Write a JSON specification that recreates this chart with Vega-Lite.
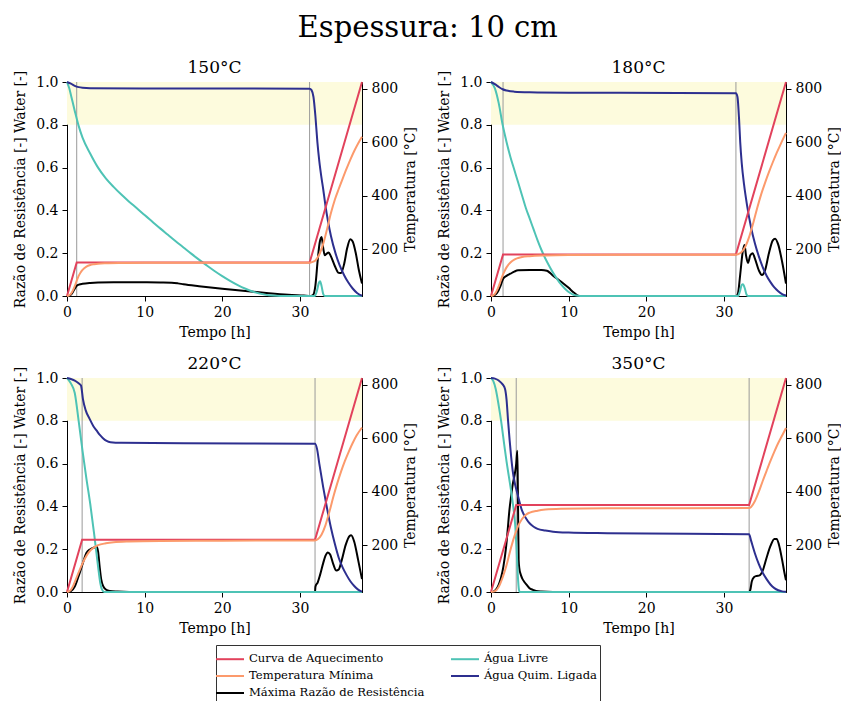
{
  "$schema": "https://vega.github.io/schema/vega-lite/v6.json",
  "background": "white",
  "padding": {"left": 13, "top": 13, "right": 2, "bottom": 2},
  "title": {"text": "Espessura: 10 cm", "fontSize": 29, "fontWeight": "normal", "anchor": "middle", "offset": 16, "color": "#000"},
  "datasets": {
    "band": [{"t0": 0, "t1": 38, "lo": 0.8, "hi": 1}],
    "vlines": [
      {"p": 150, "t": 1.25}, {"p": 150, "t": 31.25},
      {"p": 180, "t": 1.55}, {"p": 180, "t": 31.55},
      {"p": 220, "t": 1.95}, {"p": 220, "t": 31.95},
      {"p": 350, "t": 3.25}, {"p": 350, "t": 33.25}
    ],
    "ratio": [
      {"p":150,"s":"M","t":0,"v":0},{"p":150,"s":"M","t":0.3,"v":0.002},{"p":150,"s":"M","t":0.6,"v":0.01},{"p":150,"s":"M","t":0.9,"v":0.028},{"p":150,"s":"M","t":1.25,"v":0.048},{"p":150,"s":"M","t":1.6,"v":0.054},{"p":150,"s":"M","t":2,"v":0.057},{"p":150,"s":"M","t":3,"v":0.061},{"p":150,"s":"M","t":4,"v":0.063},{"p":150,"s":"M","t":6,"v":0.064},{"p":150,"s":"M","t":9,"v":0.064},{"p":150,"s":"M","t":12,"v":0.063},{"p":150,"s":"M","t":13.5,"v":0.062},{"p":150,"s":"M","t":14.3,"v":0.059},{"p":150,"s":"M","t":15,"v":0.055},{"p":150,"s":"M","t":17,"v":0.046},{"p":150,"s":"M","t":20,"v":0.034},{"p":150,"s":"M","t":23,"v":0.023},{"p":150,"s":"M","t":26,"v":0.013},{"p":150,"s":"M","t":28.5,"v":0.006},{"p":150,"s":"M","t":30.5,"v":0.002},{"p":150,"s":"M","t":31.4,"v":0},{"p":150,"s":"M","t":31.7,"v":0.005},{"p":150,"s":"M","t":32,"v":0.05},{"p":150,"s":"M","t":32.3,"v":0.17},{"p":150,"s":"M","t":32.55,"v":0.25},{"p":150,"s":"M","t":32.8,"v":0.276},{"p":150,"s":"M","t":33,"v":0.225},{"p":150,"s":"M","t":33.2,"v":0.19},{"p":150,"s":"M","t":33.45,"v":0.198},{"p":150,"s":"M","t":33.7,"v":0.203},{"p":150,"s":"M","t":34,"v":0.185},{"p":150,"s":"M","t":34.5,"v":0.14},{"p":150,"s":"M","t":35,"v":0.108},{"p":150,"s":"M","t":35.3,"v":0.107},{"p":150,"s":"M","t":35.7,"v":0.15},{"p":150,"s":"M","t":36.1,"v":0.225},{"p":150,"s":"M","t":36.5,"v":0.265},{"p":150,"s":"M","t":36.8,"v":0.255},{"p":150,"s":"M","t":37.2,"v":0.2},{"p":150,"s":"M","t":37.6,"v":0.12},{"p":150,"s":"M","t":38,"v":0.058},
      {"p":150,"s":"L","t":0,"v":1},{"p":150,"s":"L","t":0.3,"v":0.97},{"p":150,"s":"L","t":0.6,"v":0.925},{"p":150,"s":"L","t":1,"v":0.865},{"p":150,"s":"L","t":1.5,"v":0.795},{"p":150,"s":"L","t":2,"v":0.74},{"p":150,"s":"L","t":3,"v":0.665},{"p":150,"s":"L","t":4,"v":0.6},{"p":150,"s":"L","t":5,"v":0.55},{"p":150,"s":"L","t":6,"v":0.51},{"p":150,"s":"L","t":7,"v":0.474},{"p":150,"s":"L","t":8,"v":0.441},{"p":150,"s":"L","t":9,"v":0.41},{"p":150,"s":"L","t":10,"v":0.378},{"p":150,"s":"L","t":11,"v":0.347},{"p":150,"s":"L","t":12,"v":0.316},{"p":150,"s":"L","t":13,"v":0.286},{"p":150,"s":"L","t":14,"v":0.256},{"p":150,"s":"L","t":15,"v":0.227},{"p":150,"s":"L","t":16,"v":0.198},{"p":150,"s":"L","t":17,"v":0.17},{"p":150,"s":"L","t":18,"v":0.143},{"p":150,"s":"L","t":19,"v":0.117},{"p":150,"s":"L","t":20,"v":0.093},{"p":150,"s":"L","t":21,"v":0.071},{"p":150,"s":"L","t":22,"v":0.051},{"p":150,"s":"L","t":23,"v":0.034},{"p":150,"s":"L","t":24,"v":0.02},{"p":150,"s":"L","t":25,"v":0.01},{"p":150,"s":"L","t":26,"v":0.004},{"p":150,"s":"L","t":27,"v":0.001},{"p":150,"s":"L","t":28,"v":0},{"p":150,"s":"L","t":31.9,"v":0},{"p":150,"s":"L","t":32.2,"v":0.025},{"p":150,"s":"L","t":32.45,"v":0.062},{"p":150,"s":"L","t":32.6,"v":0.069},{"p":150,"s":"L","t":32.8,"v":0.045},{"p":150,"s":"L","t":33,"v":0.01},{"p":150,"s":"L","t":33.2,"v":0},{"p":150,"s":"L","t":38,"v":0},
      {"p":150,"s":"Q","t":0,"v":1},{"p":150,"s":"Q","t":0.5,"v":0.992},{"p":150,"s":"Q","t":1,"v":0.982},{"p":150,"s":"Q","t":1.5,"v":0.976},{"p":150,"s":"Q","t":2,"v":0.973},{"p":150,"s":"Q","t":3,"v":0.971},{"p":150,"s":"Q","t":10,"v":0.97},{"p":150,"s":"Q","t":31.25,"v":0.969},{"p":150,"s":"Q","t":31.5,"v":0.962},{"p":150,"s":"Q","t":31.75,"v":0.93},{"p":150,"s":"Q","t":32,"v":0.84},{"p":150,"s":"Q","t":32.25,"v":0.72},{"p":150,"s":"Q","t":32.5,"v":0.63},{"p":150,"s":"Q","t":32.75,"v":0.56},{"p":150,"s":"Q","t":33,"v":0.5},{"p":150,"s":"Q","t":33.3,"v":0.42},{"p":150,"s":"Q","t":33.6,"v":0.354},{"p":150,"s":"Q","t":34,"v":0.28},{"p":150,"s":"Q","t":34.6,"v":0.198},{"p":150,"s":"Q","t":35.1,"v":0.145},{"p":150,"s":"Q","t":35.7,"v":0.097},{"p":150,"s":"Q","t":36.2,"v":0.065},{"p":150,"s":"Q","t":36.8,"v":0.035},{"p":150,"s":"Q","t":37.4,"v":0.013},{"p":150,"s":"Q","t":38,"v":0.001},

      {"p":180,"s":"M","t":0,"v":0},{"p":180,"s":"M","t":0.4,"v":0.003},{"p":180,"s":"M","t":0.8,"v":0.015},{"p":180,"s":"M","t":1.2,"v":0.045},{"p":180,"s":"M","t":1.55,"v":0.08},{"p":180,"s":"M","t":2,"v":0.094},{"p":180,"s":"M","t":2.5,"v":0.104},{"p":180,"s":"M","t":3,"v":0.114},{"p":180,"s":"M","t":3.5,"v":0.12},{"p":180,"s":"M","t":5,"v":0.122},{"p":180,"s":"M","t":6.5,"v":0.122},{"p":180,"s":"M","t":7.2,"v":0.118},{"p":180,"s":"M","t":7.6,"v":0.108},{"p":180,"s":"M","t":8,"v":0.095},{"p":180,"s":"M","t":9,"v":0.068},{"p":180,"s":"M","t":10,"v":0.038},{"p":180,"s":"M","t":10.7,"v":0.015},{"p":180,"s":"M","t":11.2,"v":0.002},{"p":180,"s":"M","t":11.5,"v":0},{"p":180,"s":"M","t":31.6,"v":0},{"p":180,"s":"M","t":31.8,"v":0.01},{"p":180,"s":"M","t":32.1,"v":0.1},{"p":180,"s":"M","t":32.4,"v":0.2},{"p":180,"s":"M","t":32.65,"v":0.238},{"p":180,"s":"M","t":32.85,"v":0.19},{"p":180,"s":"M","t":33.1,"v":0.155},{"p":180,"s":"M","t":33.4,"v":0.19},{"p":180,"s":"M","t":33.7,"v":0.2},{"p":180,"s":"M","t":34,"v":0.175},{"p":180,"s":"M","t":34.5,"v":0.12},{"p":180,"s":"M","t":34.9,"v":0.098},{"p":180,"s":"M","t":35.3,"v":0.12},{"p":180,"s":"M","t":35.8,"v":0.2},{"p":180,"s":"M","t":36.3,"v":0.26},{"p":180,"s":"M","t":36.6,"v":0.268},{"p":180,"s":"M","t":37,"v":0.24},{"p":180,"s":"M","t":37.5,"v":0.16},{"p":180,"s":"M","t":38,"v":0.058},
      {"p":180,"s":"L","t":0,"v":1},{"p":180,"s":"L","t":0.5,"v":0.97},{"p":180,"s":"L","t":1,"v":0.9},{"p":180,"s":"L","t":1.5,"v":0.8},{"p":180,"s":"L","t":2,"v":0.72},{"p":180,"s":"L","t":2.5,"v":0.65},{"p":180,"s":"L","t":3,"v":0.59},{"p":180,"s":"L","t":3.5,"v":0.53},{"p":180,"s":"L","t":4,"v":0.47},{"p":180,"s":"L","t":4.5,"v":0.41},{"p":180,"s":"L","t":5,"v":0.36},{"p":180,"s":"L","t":5.5,"v":0.31},{"p":180,"s":"L","t":6,"v":0.26},{"p":180,"s":"L","t":6.5,"v":0.215},{"p":180,"s":"L","t":7,"v":0.175},{"p":180,"s":"L","t":7.5,"v":0.14},{"p":180,"s":"L","t":8,"v":0.108},{"p":180,"s":"L","t":8.5,"v":0.08},{"p":180,"s":"L","t":9,"v":0.055},{"p":180,"s":"L","t":9.5,"v":0.035},{"p":180,"s":"L","t":10,"v":0.019},{"p":180,"s":"L","t":10.5,"v":0.008},{"p":180,"s":"L","t":11,"v":0.002},{"p":180,"s":"L","t":11.5,"v":0},{"p":180,"s":"L","t":31.8,"v":0},{"p":180,"s":"L","t":32.05,"v":0.02},{"p":180,"s":"L","t":32.3,"v":0.052},{"p":180,"s":"L","t":32.45,"v":0.055},{"p":180,"s":"L","t":32.7,"v":0.035},{"p":180,"s":"L","t":32.9,"v":0.008},{"p":180,"s":"L","t":33.1,"v":0},{"p":180,"s":"L","t":38,"v":0},
      {"p":180,"s":"Q","t":0,"v":1},{"p":180,"s":"Q","t":0.5,"v":0.99},{"p":180,"s":"Q","t":1,"v":0.977},{"p":180,"s":"Q","t":1.5,"v":0.966},{"p":180,"s":"Q","t":2,"v":0.96},{"p":180,"s":"Q","t":3,"v":0.955},{"p":180,"s":"Q","t":5,"v":0.952},{"p":180,"s":"Q","t":10,"v":0.95},{"p":180,"s":"Q","t":31.55,"v":0.948},{"p":180,"s":"Q","t":31.75,"v":0.93},{"p":180,"s":"Q","t":31.95,"v":0.83},{"p":180,"s":"Q","t":32.1,"v":0.72},{"p":180,"s":"Q","t":32.3,"v":0.62},{"p":180,"s":"Q","t":32.6,"v":0.52},{"p":180,"s":"Q","t":33,"v":0.42},{"p":180,"s":"Q","t":33.5,"v":0.32},{"p":180,"s":"Q","t":34,"v":0.245},{"p":180,"s":"Q","t":34.5,"v":0.185},{"p":180,"s":"Q","t":35,"v":0.135},{"p":180,"s":"Q","t":35.5,"v":0.095},{"p":180,"s":"Q","t":36,"v":0.065},{"p":180,"s":"Q","t":36.5,"v":0.04},{"p":180,"s":"Q","t":37,"v":0.022},{"p":180,"s":"Q","t":37.5,"v":0.009},{"p":180,"s":"Q","t":38,"v":0.002},

      {"p":220,"s":"M","t":0,"v":0},{"p":220,"s":"M","t":0.5,"v":0.004},{"p":220,"s":"M","t":1,"v":0.025},{"p":220,"s":"M","t":1.5,"v":0.075},{"p":220,"s":"M","t":2,"v":0.13},{"p":220,"s":"M","t":2.5,"v":0.182},{"p":220,"s":"M","t":3,"v":0.2},{"p":220,"s":"M","t":3.5,"v":0.208},{"p":220,"s":"M","t":3.8,"v":0.213},{"p":220,"s":"M","t":4,"v":0.19},{"p":220,"s":"M","t":4.2,"v":0.12},{"p":220,"s":"M","t":4.4,"v":0.06},{"p":220,"s":"M","t":4.7,"v":0.025},{"p":220,"s":"M","t":5,"v":0.012},{"p":220,"s":"M","t":5.5,"v":0.005},{"p":220,"s":"M","t":6.5,"v":0.002},{"p":220,"s":"M","t":8,"v":0},{"p":220,"s":"M","t":31.95,"v":0},{"p":220,"s":"M","t":32,"v":0.025},{"p":220,"s":"M","t":32.3,"v":0.045},{"p":220,"s":"M","t":32.6,"v":0.08},{"p":220,"s":"M","t":33,"v":0.135},{"p":220,"s":"M","t":33.3,"v":0.17},{"p":220,"s":"M","t":33.6,"v":0.185},{"p":220,"s":"M","t":33.9,"v":0.175},{"p":220,"s":"M","t":34.3,"v":0.13},{"p":220,"s":"M","t":34.7,"v":0.1},{"p":220,"s":"M","t":35,"v":0.105},{"p":220,"s":"M","t":35.4,"v":0.15},{"p":220,"s":"M","t":35.9,"v":0.22},{"p":220,"s":"M","t":36.4,"v":0.262},{"p":220,"s":"M","t":36.6,"v":0.265},{"p":220,"s":"M","t":37,"v":0.235},{"p":220,"s":"M","t":37.5,"v":0.15},{"p":220,"s":"M","t":38,"v":0.06},
      {"p":220,"s":"L","t":0,"v":1},{"p":220,"s":"L","t":0.5,"v":0.975},{"p":220,"s":"L","t":1,"v":0.93},{"p":220,"s":"L","t":1.5,"v":0.8},{"p":220,"s":"L","t":2,"v":0.66},{"p":220,"s":"L","t":2.5,"v":0.53},{"p":220,"s":"L","t":3,"v":0.41},{"p":220,"s":"L","t":3.5,"v":0.27},{"p":220,"s":"L","t":4,"v":0.12},{"p":220,"s":"L","t":4.3,"v":0.04},{"p":220,"s":"L","t":4.5,"v":0.012},{"p":220,"s":"L","t":4.8,"v":0},{"p":220,"s":"L","t":38,"v":0},
      {"p":220,"s":"Q","t":0,"v":1},{"p":220,"s":"Q","t":0.5,"v":0.995},{"p":220,"s":"Q","t":1,"v":0.988},{"p":220,"s":"Q","t":1.5,"v":0.975},{"p":220,"s":"Q","t":1.8,"v":0.965},{"p":220,"s":"Q","t":2.06,"v":0.9},{"p":220,"s":"Q","t":2.4,"v":0.85},{"p":220,"s":"Q","t":2.9,"v":0.81},{"p":220,"s":"Q","t":3.4,"v":0.775},{"p":220,"s":"Q","t":3.8,"v":0.755},{"p":220,"s":"Q","t":4.2,"v":0.735},{"p":220,"s":"Q","t":4.6,"v":0.72},{"p":220,"s":"Q","t":5.1,"v":0.706},{"p":220,"s":"Q","t":5.6,"v":0.7},{"p":220,"s":"Q","t":7,"v":0.697},{"p":220,"s":"Q","t":15,"v":0.695},{"p":220,"s":"Q","t":31.95,"v":0.693},{"p":220,"s":"Q","t":32.2,"v":0.67},{"p":220,"s":"Q","t":32.5,"v":0.6},{"p":220,"s":"Q","t":33,"v":0.49},{"p":220,"s":"Q","t":33.5,"v":0.39},{"p":220,"s":"Q","t":34,"v":0.3},{"p":220,"s":"Q","t":34.5,"v":0.225},{"p":220,"s":"Q","t":35,"v":0.16},{"p":220,"s":"Q","t":35.5,"v":0.115},{"p":220,"s":"Q","t":36,"v":0.08},{"p":220,"s":"Q","t":36.5,"v":0.05},{"p":220,"s":"Q","t":37,"v":0.028},{"p":220,"s":"Q","t":37.5,"v":0.011},{"p":220,"s":"Q","t":38,"v":0.002},

      {"p":350,"s":"M","t":0,"v":0},{"p":350,"s":"M","t":0.3,"v":0.002},{"p":350,"s":"M","t":0.64,"v":0.011},{"p":350,"s":"M","t":1,"v":0.035},{"p":350,"s":"M","t":1.29,"v":0.066},{"p":350,"s":"M","t":1.6,"v":0.12},{"p":350,"s":"M","t":1.93,"v":0.206},{"p":350,"s":"M","t":2.15,"v":0.29},{"p":350,"s":"M","t":2.36,"v":0.378},{"p":350,"s":"M","t":2.6,"v":0.45},{"p":350,"s":"M","t":2.8,"v":0.503},{"p":350,"s":"M","t":3,"v":0.54},{"p":350,"s":"M","t":3.13,"v":0.566},{"p":350,"s":"M","t":3.25,"v":0.6},{"p":350,"s":"M","t":3.39,"v":0.66},{"p":350,"s":"M","t":3.47,"v":0.45},{"p":350,"s":"M","t":3.56,"v":0.15},{"p":350,"s":"M","t":3.65,"v":0.11},{"p":350,"s":"M","t":3.8,"v":0.085},{"p":350,"s":"M","t":4,"v":0.065},{"p":350,"s":"M","t":4.3,"v":0.047},{"p":350,"s":"M","t":4.6,"v":0.033},{"p":350,"s":"M","t":4.93,"v":0.019},{"p":350,"s":"M","t":5.4,"v":0.01},{"p":350,"s":"M","t":5.8,"v":0.005},{"p":350,"s":"M","t":6.5,"v":0.002},{"p":350,"s":"M","t":8,"v":0},{"p":350,"s":"M","t":33.25,"v":0},{"p":350,"s":"M","t":33.4,"v":0.01},{"p":350,"s":"M","t":33.6,"v":0.05},{"p":350,"s":"M","t":33.9,"v":0.07},{"p":350,"s":"M","t":34.2,"v":0.075},{"p":350,"s":"M","t":34.6,"v":0.078},{"p":350,"s":"M","t":35,"v":0.1},{"p":350,"s":"M","t":35.5,"v":0.16},{"p":350,"s":"M","t":36,"v":0.215},{"p":350,"s":"M","t":36.5,"v":0.248},{"p":350,"s":"M","t":36.8,"v":0.248},{"p":350,"s":"M","t":37.1,"v":0.22},{"p":350,"s":"M","t":37.5,"v":0.15},{"p":350,"s":"M","t":37.8,"v":0.09},{"p":350,"s":"M","t":38,"v":0.055},
      {"p":350,"s":"L","t":0,"v":1},{"p":350,"s":"L","t":0.3,"v":0.985},{"p":350,"s":"L","t":0.6,"v":0.95},{"p":350,"s":"L","t":1,"v":0.87},{"p":350,"s":"L","t":1.3,"v":0.8},{"p":350,"s":"L","t":1.7,"v":0.69},{"p":350,"s":"L","t":2,"v":0.61},{"p":350,"s":"L","t":2.3,"v":0.54},{"p":350,"s":"L","t":2.6,"v":0.47},{"p":350,"s":"L","t":2.9,"v":0.39},{"p":350,"s":"L","t":3.1,"v":0.32},{"p":350,"s":"L","t":3.3,"v":0.2},{"p":350,"s":"L","t":3.45,"v":0.08},{"p":350,"s":"L","t":3.6,"v":0.01},{"p":350,"s":"L","t":3.7,"v":0},{"p":350,"s":"L","t":38,"v":0},
      {"p":350,"s":"Q","t":0,"v":1},{"p":350,"s":"Q","t":0.5,"v":0.997},{"p":350,"s":"Q","t":1,"v":0.988},{"p":350,"s":"Q","t":1.5,"v":0.97},{"p":350,"s":"Q","t":1.8,"v":0.95},{"p":350,"s":"Q","t":2,"v":0.9},{"p":350,"s":"Q","t":2.2,"v":0.8},{"p":350,"s":"Q","t":2.4,"v":0.71},{"p":350,"s":"Q","t":2.6,"v":0.63},{"p":350,"s":"Q","t":2.8,"v":0.565},{"p":350,"s":"Q","t":3,"v":0.52},{"p":350,"s":"Q","t":3.4,"v":0.46},{"p":350,"s":"Q","t":4,"v":0.38},{"p":350,"s":"Q","t":4.5,"v":0.345},{"p":350,"s":"Q","t":5,"v":0.32},{"p":350,"s":"Q","t":5.5,"v":0.305},{"p":350,"s":"Q","t":6,"v":0.295},{"p":350,"s":"Q","t":7,"v":0.287},{"p":350,"s":"Q","t":8,"v":0.282},{"p":350,"s":"Q","t":10,"v":0.278},{"p":350,"s":"Q","t":15,"v":0.275},{"p":350,"s":"Q","t":20,"v":0.273},{"p":350,"s":"Q","t":33.25,"v":0.27},{"p":350,"s":"Q","t":33.5,"v":0.24},{"p":350,"s":"Q","t":34,"v":0.18},{"p":350,"s":"Q","t":34.5,"v":0.13},{"p":350,"s":"Q","t":35,"v":0.09},{"p":350,"s":"Q","t":35.5,"v":0.06},{"p":350,"s":"Q","t":36,"v":0.035},{"p":350,"s":"Q","t":36.5,"v":0.018},{"p":350,"s":"Q","t":37,"v":0.008},{"p":350,"s":"Q","t":37.5,"v":0.003},{"p":350,"s":"Q","t":38,"v":0.001}
    ],
    "heat": [
      {"p":150,"s":"H","t":0,"v":25},{"p":150,"s":"H","t":1.25,"v":150},{"p":150,"s":"H","t":31.25,"v":150},{"p":150,"s":"H","t":38,"v":825},
      {"p":180,"s":"H","t":0,"v":25},{"p":180,"s":"H","t":1.55,"v":180},{"p":180,"s":"H","t":31.55,"v":180},{"p":180,"s":"H","t":38,"v":825},
      {"p":220,"s":"H","t":0,"v":25},{"p":220,"s":"H","t":1.95,"v":220},{"p":220,"s":"H","t":31.95,"v":220},{"p":220,"s":"H","t":38,"v":825},
      {"p":350,"s":"H","t":0,"v":25},{"p":350,"s":"H","t":3.25,"v":350},{"p":350,"s":"H","t":33.25,"v":350},{"p":350,"s":"H","t":38,"v":825}
    ],
    "tmin": [
      {"p":150,"s":"T","t":0,"v":25},{"p":150,"s":"T","t":0.25,"v":27},{"p":150,"s":"T","t":0.5,"v":33},{"p":150,"s":"T","t":0.75,"v":45},{"p":150,"s":"T","t":1,"v":62},{"p":150,"s":"T","t":1.25,"v":82},{"p":150,"s":"T","t":1.5,"v":100},{"p":150,"s":"T","t":1.75,"v":113},{"p":150,"s":"T","t":2,"v":123},{"p":150,"s":"T","t":2.5,"v":135},{"p":150,"s":"T","t":3,"v":141},{"p":150,"s":"T","t":3.5,"v":144},{"p":150,"s":"T","t":4,"v":146},{"p":150,"s":"T","t":5,"v":147.5},{"p":150,"s":"T","t":7,"v":148.5},{"p":150,"s":"T","t":10,"v":149},{"p":150,"s":"T","t":31.25,"v":149.5},{"p":150,"s":"T","t":31.5,"v":151},{"p":150,"s":"T","t":32,"v":158},{"p":150,"s":"T","t":32.5,"v":180},{"p":150,"s":"T","t":33,"v":220},{"p":150,"s":"T","t":33.5,"v":275},{"p":150,"s":"T","t":34,"v":335},{"p":150,"s":"T","t":34.5,"v":385},{"p":150,"s":"T","t":35,"v":425},{"p":150,"s":"T","t":35.5,"v":463},{"p":150,"s":"T","t":36,"v":500},{"p":150,"s":"T","t":36.5,"v":535},{"p":150,"s":"T","t":37,"v":567},{"p":150,"s":"T","t":37.5,"v":595},{"p":150,"s":"T","t":38,"v":620},
      {"p":180,"s":"T","t":0,"v":25},{"p":180,"s":"T","t":0.25,"v":27},{"p":180,"s":"T","t":0.5,"v":33},{"p":180,"s":"T","t":0.75,"v":45},{"p":180,"s":"T","t":1,"v":62},{"p":180,"s":"T","t":1.25,"v":82},{"p":180,"s":"T","t":1.5,"v":102},{"p":180,"s":"T","t":1.75,"v":118},{"p":180,"s":"T","t":2,"v":132},{"p":180,"s":"T","t":2.5,"v":150},{"p":180,"s":"T","t":3,"v":161},{"p":180,"s":"T","t":3.5,"v":167},{"p":180,"s":"T","t":4,"v":171},{"p":180,"s":"T","t":5,"v":174},{"p":180,"s":"T","t":7,"v":176.5},{"p":180,"s":"T","t":10,"v":178},{"p":180,"s":"T","t":20,"v":179},{"p":180,"s":"T","t":31.55,"v":179.5},{"p":180,"s":"T","t":31.8,"v":181},{"p":180,"s":"T","t":32.3,"v":190},{"p":180,"s":"T","t":32.8,"v":212},{"p":180,"s":"T","t":33.3,"v":250},{"p":180,"s":"T","t":33.8,"v":300},{"p":180,"s":"T","t":34.3,"v":355},{"p":180,"s":"T","t":34.8,"v":405},{"p":180,"s":"T","t":35.3,"v":448},{"p":180,"s":"T","t":35.8,"v":488},{"p":180,"s":"T","t":36.3,"v":525},{"p":180,"s":"T","t":36.8,"v":560},{"p":180,"s":"T","t":37.3,"v":592},{"p":180,"s":"T","t":38,"v":635},
      {"p":220,"s":"T","t":0,"v":25},{"p":220,"s":"T","t":0.25,"v":27},{"p":220,"s":"T","t":0.5,"v":33},{"p":220,"s":"T","t":0.75,"v":45},{"p":220,"s":"T","t":1,"v":62},{"p":220,"s":"T","t":1.5,"v":98},{"p":220,"s":"T","t":2,"v":132},{"p":220,"s":"T","t":2.5,"v":160},{"p":220,"s":"T","t":3,"v":180},{"p":220,"s":"T","t":3.5,"v":192},{"p":220,"s":"T","t":4,"v":200},{"p":220,"s":"T","t":5,"v":207},{"p":220,"s":"T","t":6,"v":211},{"p":220,"s":"T","t":8,"v":214},{"p":220,"s":"T","t":12,"v":216},{"p":220,"s":"T","t":20,"v":217},{"p":220,"s":"T","t":31.95,"v":217.5},{"p":220,"s":"T","t":32.3,"v":222},{"p":220,"s":"T","t":32.8,"v":240},{"p":220,"s":"T","t":33.3,"v":275},{"p":220,"s":"T","t":33.8,"v":325},{"p":220,"s":"T","t":34.3,"v":380},{"p":220,"s":"T","t":34.8,"v":430},{"p":220,"s":"T","t":35.3,"v":475},{"p":220,"s":"T","t":35.8,"v":515},{"p":220,"s":"T","t":36.3,"v":550},{"p":220,"s":"T","t":36.8,"v":582},{"p":220,"s":"T","t":37.3,"v":610},{"p":220,"s":"T","t":38,"v":640},
      {"p":350,"s":"T","t":0,"v":25},{"p":350,"s":"T","t":0.5,"v":28},{"p":350,"s":"T","t":1,"v":45},{"p":350,"s":"T","t":1.5,"v":80},{"p":350,"s":"T","t":2,"v":125},{"p":350,"s":"T","t":2.5,"v":182},{"p":350,"s":"T","t":3,"v":232},{"p":350,"s":"T","t":3.5,"v":272},{"p":350,"s":"T","t":4,"v":298},{"p":350,"s":"T","t":4.5,"v":314},{"p":350,"s":"T","t":5,"v":322},{"p":350,"s":"T","t":6,"v":329},{"p":350,"s":"T","t":7,"v":333},{"p":350,"s":"T","t":9,"v":336},{"p":350,"s":"T","t":15,"v":338},{"p":350,"s":"T","t":33.25,"v":339},{"p":350,"s":"T","t":33.5,"v":343},{"p":350,"s":"T","t":34,"v":365},{"p":350,"s":"T","t":34.5,"v":400},{"p":350,"s":"T","t":35,"v":440},{"p":350,"s":"T","t":35.5,"v":478},{"p":350,"s":"T","t":36,"v":515},{"p":350,"s":"T","t":36.5,"v":550},{"p":350,"s":"T","t":37,"v":582},{"p":350,"s":"T","t":37.5,"v":610},{"p":350,"s":"T","t":38,"v":638}
    ]
  },
  "columns": 2,
  "spacing": {"row": 82, "column": 129},
  "bounds": "flush",
  "concat": [
    {
      "title": {"text": "150°C", "fontSize": 17, "offset": -7},
      "width": 295, "height": 214,
      "layer": [
        {"layer": [
          {"data": {"name": "band"}, "mark": {"type": "rect", "color": "#fdfbdd"},
           "encoding": {"x": {"field": "t0", "type": "quantitative", "scale": {"domain": [0, 38], "nice": false}, "axis": {"values": [0, 10, 20, 30], "title": "Tempo [h]", "titleFontWeight": "normal", "titlePadding": 6}},
                        "x2": {"field": "t1"},
                        "y": {"field": "lo", "type": "quantitative", "scale": {"domain": [0, 1], "nice": false}, "axis": {"orient": "left", "values": [0, 0.2, 0.4, 0.6, 0.8, 1], "format": ".1f", "title": "Razão de Resistência [-] Water [-]", "titleFontWeight": "normal", "titlePadding": 8}},
                        "y2": {"field": "hi"}}},
          {"data": {"name": "vlines"}, "transform": [{"filter": "datum.p == 150"}], "mark": {"type": "rule", "color": "#9a9a9a", "strokeWidth": 1},
           "encoding": {"x": {"field": "t", "type": "quantitative"}}},
          {"data": {"name": "ratio"}, "transform": [{"filter": "datum.p == 150"}], "mark": {"type": "line", "strokeWidth": 2, "interpolate": "monotone"},
           "encoding": {"x": {"field": "t", "type": "quantitative"}, "y": {"field": "v", "type": "quantitative"},
                        "color": {"field": "s", "type": "nominal", "scale": {"domain": ["H", "T", "M", "L", "Q"], "range": ["#e2425c", "#fc9a6c", "#000000", "#4ec3b5", "#2d2f8f"]},
                                  "legend": {"orient": "none", "legendX": 149, "legendY": 563, "columns": 2, "title": null,
                                             "symbolType": "M-1.4,0H1.4", "symbolStrokeWidth": 2, "symbolSize": 400,
                                             "labelFont": "DejaVu Serif", "labelFontSize": 11.6, "labelLimit": 400, "labelColor": "#000000", "labelOffset": 8,
                                             "strokeColor": "#333333", "fillColor": "#ffffff", "padding": 3, "rowPadding": -2.5, "columnPadding": 22,
                                             "labelExpr": "datum.value == 'H' ? 'Curva de Aquecimento' : datum.value == 'T' ? 'Temperatura Mínima' : datum.value == 'M' ? 'Máxima Razão de Resistência' : datum.value == 'L' ? 'Água Livre' : 'Água Quim. Ligada'"}}}}
        ]},
        {"layer": [
          {"data": {"name": "heat"}, "transform": [{"filter": "datum.p == 150"}], "mark": {"type": "line", "strokeWidth": 2},
           "encoding": {"x": {"field": "t", "type": "quantitative"}, "y": {"field": "v", "type": "quantitative", "scale": {"domain": [25, 825], "nice": false, "zero": false}, "axis": {"orient": "right", "values": [200, 400, 600, 800], "title": "Temperatura [°C]", "titleAngle": 270, "titleBaseline": "top", "titlePadding": 6, "titleFontWeight": "normal"}},
                        "color": {"field": "s", "type": "nominal"}}},
          {"data": {"name": "tmin"}, "transform": [{"filter": "datum.p == 150"}], "mark": {"type": "line", "strokeWidth": 2, "interpolate": "monotone"},
           "encoding": {"x": {"field": "t", "type": "quantitative"}, "y": {"field": "v", "type": "quantitative"},
                        "color": {"field": "s", "type": "nominal"}}}
        ]}
      ],
      "resolve": {"scale": {"y": "independent"}}
    },
    {
      "title": {"text": "180°C", "fontSize": 17, "offset": -7},
      "width": 295, "height": 214,
      "layer": [
        {"layer": [
          {"data": {"name": "band"}, "mark": {"type": "rect", "color": "#fdfbdd"},
           "encoding": {"x": {"field": "t0", "type": "quantitative", "scale": {"domain": [0, 38], "nice": false}, "axis": {"values": [0, 10, 20, 30], "title": "Tempo [h]", "titleFontWeight": "normal", "titlePadding": 6}},
                        "x2": {"field": "t1"},
                        "y": {"field": "lo", "type": "quantitative", "scale": {"domain": [0, 1], "nice": false}, "axis": {"orient": "left", "values": [0, 0.2, 0.4, 0.6, 0.8, 1], "format": ".1f", "title": "Razão de Resistência [-] Water [-]", "titleFontWeight": "normal", "titlePadding": 8}},
                        "y2": {"field": "hi"}}},
          {"data": {"name": "vlines"}, "transform": [{"filter": "datum.p == 180"}], "mark": {"type": "rule", "color": "#9a9a9a", "strokeWidth": 1},
           "encoding": {"x": {"field": "t", "type": "quantitative"}}},
          {"data": {"name": "ratio"}, "transform": [{"filter": "datum.p == 180"}], "mark": {"type": "line", "strokeWidth": 2, "interpolate": "monotone"},
           "encoding": {"x": {"field": "t", "type": "quantitative"}, "y": {"field": "v", "type": "quantitative"},
                        "color": {"field": "s", "type": "nominal"}}}
        ]},
        {"layer": [
          {"data": {"name": "heat"}, "transform": [{"filter": "datum.p == 180"}], "mark": {"type": "line", "strokeWidth": 2},
           "encoding": {"x": {"field": "t", "type": "quantitative"}, "y": {"field": "v", "type": "quantitative", "scale": {"domain": [25, 825], "nice": false, "zero": false}, "axis": {"orient": "right", "values": [200, 400, 600, 800], "title": "Temperatura [°C]", "titleAngle": 270, "titleBaseline": "top", "titlePadding": 6, "titleFontWeight": "normal"}},
                        "color": {"field": "s", "type": "nominal"}}},
          {"data": {"name": "tmin"}, "transform": [{"filter": "datum.p == 180"}], "mark": {"type": "line", "strokeWidth": 2, "interpolate": "monotone"},
           "encoding": {"x": {"field": "t", "type": "quantitative"}, "y": {"field": "v", "type": "quantitative"},
                        "color": {"field": "s", "type": "nominal"}}}
        ]}
      ],
      "resolve": {"scale": {"y": "independent"}}
    },
    {
      "title": {"text": "220°C", "fontSize": 17, "offset": -7},
      "width": 295, "height": 214,
      "layer": [
        {"layer": [
          {"data": {"name": "band"}, "mark": {"type": "rect", "color": "#fdfbdd"},
           "encoding": {"x": {"field": "t0", "type": "quantitative", "scale": {"domain": [0, 38], "nice": false}, "axis": {"values": [0, 10, 20, 30], "title": "Tempo [h]", "titleFontWeight": "normal", "titlePadding": 6}},
                        "x2": {"field": "t1"},
                        "y": {"field": "lo", "type": "quantitative", "scale": {"domain": [0, 1], "nice": false}, "axis": {"orient": "left", "values": [0, 0.2, 0.4, 0.6, 0.8, 1], "format": ".1f", "title": "Razão de Resistência [-] Water [-]", "titleFontWeight": "normal", "titlePadding": 8}},
                        "y2": {"field": "hi"}}},
          {"data": {"name": "vlines"}, "transform": [{"filter": "datum.p == 220"}], "mark": {"type": "rule", "color": "#9a9a9a", "strokeWidth": 1},
           "encoding": {"x": {"field": "t", "type": "quantitative"}}},
          {"data": {"name": "ratio"}, "transform": [{"filter": "datum.p == 220"}], "mark": {"type": "line", "strokeWidth": 2, "interpolate": "monotone"},
           "encoding": {"x": {"field": "t", "type": "quantitative"}, "y": {"field": "v", "type": "quantitative"},
                        "color": {"field": "s", "type": "nominal"}}}
        ]},
        {"layer": [
          {"data": {"name": "heat"}, "transform": [{"filter": "datum.p == 220"}], "mark": {"type": "line", "strokeWidth": 2},
           "encoding": {"x": {"field": "t", "type": "quantitative"}, "y": {"field": "v", "type": "quantitative", "scale": {"domain": [25, 825], "nice": false, "zero": false}, "axis": {"orient": "right", "values": [200, 400, 600, 800], "title": "Temperatura [°C]", "titleAngle": 270, "titleBaseline": "top", "titlePadding": 6, "titleFontWeight": "normal"}},
                        "color": {"field": "s", "type": "nominal"}}},
          {"data": {"name": "tmin"}, "transform": [{"filter": "datum.p == 220"}], "mark": {"type": "line", "strokeWidth": 2, "interpolate": "monotone"},
           "encoding": {"x": {"field": "t", "type": "quantitative"}, "y": {"field": "v", "type": "quantitative"},
                        "color": {"field": "s", "type": "nominal"}}}
        ]}
      ],
      "resolve": {"scale": {"y": "independent"}}
    },
    {
      "title": {"text": "350°C", "fontSize": 17, "offset": -7},
      "width": 295, "height": 214,
      "layer": [
        {"layer": [
          {"data": {"name": "band"}, "mark": {"type": "rect", "color": "#fdfbdd"},
           "encoding": {"x": {"field": "t0", "type": "quantitative", "scale": {"domain": [0, 38], "nice": false}, "axis": {"values": [0, 10, 20, 30], "title": "Tempo [h]", "titleFontWeight": "normal", "titlePadding": 6}},
                        "x2": {"field": "t1"},
                        "y": {"field": "lo", "type": "quantitative", "scale": {"domain": [0, 1], "nice": false}, "axis": {"orient": "left", "values": [0, 0.2, 0.4, 0.6, 0.8, 1], "format": ".1f", "title": "Razão de Resistência [-] Water [-]", "titleFontWeight": "normal", "titlePadding": 8}},
                        "y2": {"field": "hi"}}},
          {"data": {"name": "vlines"}, "transform": [{"filter": "datum.p == 350"}], "mark": {"type": "rule", "color": "#9a9a9a", "strokeWidth": 1},
           "encoding": {"x": {"field": "t", "type": "quantitative"}}},
          {"data": {"name": "ratio"}, "transform": [{"filter": "datum.p == 350"}], "mark": {"type": "line", "strokeWidth": 2, "interpolate": "monotone"},
           "encoding": {"x": {"field": "t", "type": "quantitative"}, "y": {"field": "v", "type": "quantitative"},
                        "color": {"field": "s", "type": "nominal"}}}
        ]},
        {"layer": [
          {"data": {"name": "heat"}, "transform": [{"filter": "datum.p == 350"}], "mark": {"type": "line", "strokeWidth": 2},
           "encoding": {"x": {"field": "t", "type": "quantitative"}, "y": {"field": "v", "type": "quantitative", "scale": {"domain": [25, 825], "nice": false, "zero": false}, "axis": {"orient": "right", "values": [200, 400, 600, 800], "title": "Temperatura [°C]", "titleAngle": 270, "titleBaseline": "top", "titlePadding": 6, "titleFontWeight": "normal"}},
                        "color": {"field": "s", "type": "nominal"}}},
          {"data": {"name": "tmin"}, "transform": [{"filter": "datum.p == 350"}], "mark": {"type": "line", "strokeWidth": 2, "interpolate": "monotone"},
           "encoding": {"x": {"field": "t", "type": "quantitative"}, "y": {"field": "v", "type": "quantitative"},
                        "color": {"field": "s", "type": "nominal"}}}
        ]}
      ],
      "resolve": {"scale": {"y": "independent"}}
    }
  ],
  "config": {
    "font": "DejaVu Serif",
    "view": {"stroke": "#000000", "strokeWidth": 1},
    "title": {"fontWeight": "normal", "color": "#000000"},
    "axis": {"labelFontSize": 14, "titleFontSize": 14, "titleFontWeight": "normal", "labelColor": "#000000", "titleColor": "#000000", "domainColor": "#000000", "tickColor": "#000000", "tickSize": 5, "labelPadding": 4, "titlePadding": 3, "grid": false, "labelFlush": false, "labelOverlap": false}
  }
}
